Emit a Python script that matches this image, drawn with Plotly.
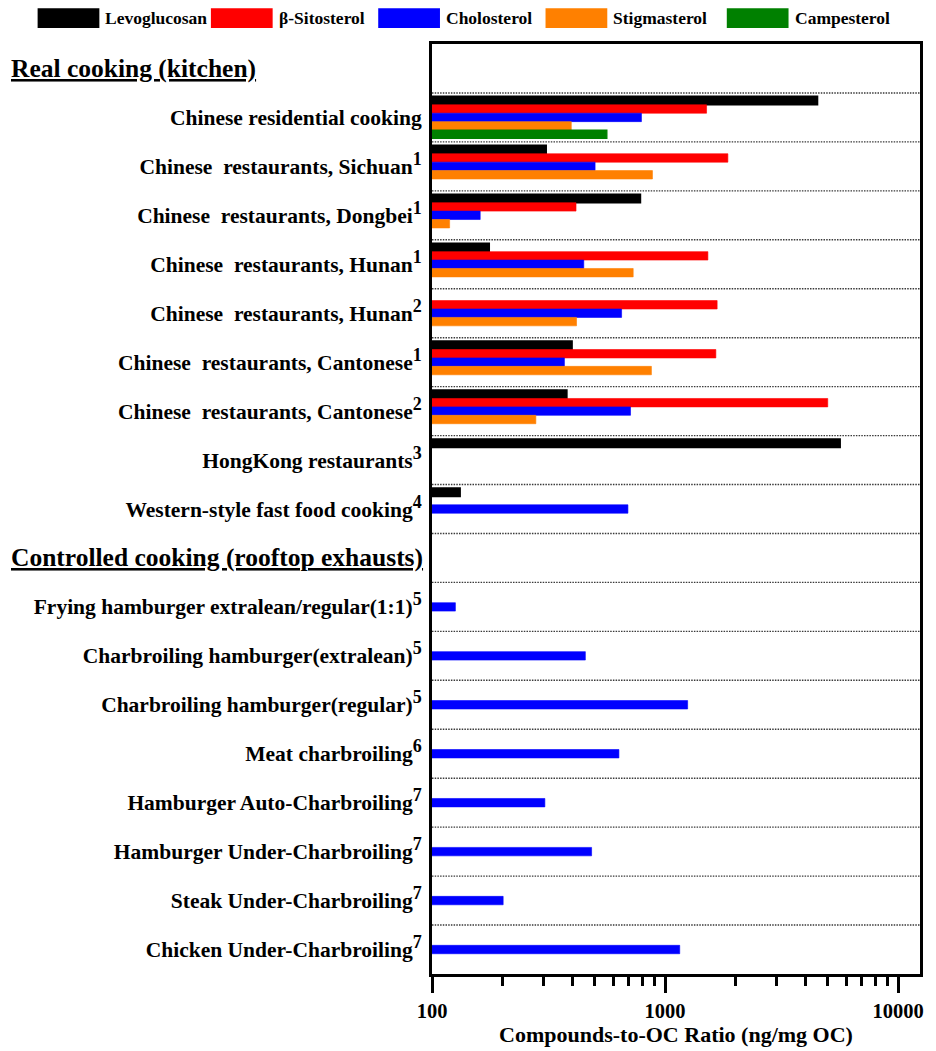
import plotly.graph_objects as go

# ---- data -------------------------------------------------------------
section_headers = ["Real cooking (kitchen)", "Controlled cooking (rooftop exhausts)"]

kitchen_sources = [
    "Chinese residential cooking",
    "Chinese\u00a0 restaurants, Sichuan",
    "Chinese\u00a0 restaurants, Dongbei",
    "Chinese\u00a0 restaurants, Hunan",
    "Chinese\u00a0 restaurants, Hunan",
    "Chinese\u00a0 restaurants, Cantonese",
    "Chinese\u00a0 restaurants, Cantonese",
    "HongKong restaurants",
    "Western-style fast food cooking",
]
kitchen_refs = ["", "1", "1", "1", "2", "1", "2", "3", "4"]

rooftop_sources = [
    "Frying hamburger extralean/regular(1:1)",
    "Charbroiling hamburger(extralean)",
    "Charbroiling hamburger(regular)",
    "Meat charbroiling",
    "Hamburger Auto-Charbroiling",
    "Hamburger Under-Charbroiling",
    "Steak Under-Charbroiling",
    "Chicken Under-Charbroiling",
]
rooftop_refs = ["5", "5", "5", "6", "7", "7", "7", "7"]

series_names = ["Levoglucosan", "\u03b2-Sitosterol", "Cholosterol", "Stigmasterol", "Campesterol"]
series_colors = ["#000000", "#ff0000", "#0000ff", "#ff8000", "#008000"]
series_outline = [1.6, 0.6, 0.6, 0.6, 1.2]

# ng compound per mg OC, kitchen sources then rooftop sources
levoglucosan = [4510, 309, 784, 176, None, 399, 379, 5640, 132,
                None, None, None, None, None, None, None, None]
sitosterol = [1507, 1860, 415, 1527, 1673, 1652, 4990, None, None,
              None, None, None, None, None, None, None, None]
cholesterol = [792, 501, 161, 448, 651, 370, 711, None, 693,
               126, 455, 1250, 634, 305, 484, 202, 1156]
stigmasterol = [396, 883, 119, 730, 417, 874, 279, None, None,
                None, None, None, None, None, None, None, None]
campesterol = [563, None, None, None, None, None, None, None, None,
               None, None, None, None, None, None, None, None]

x_tick_values = [100, 1000, 10000]
x_title = "Compounds-to-OC Ratio (ng/mg OC)"

# ---- build the category axis -----------------------------------------
FONT = "Liberation Serif"
LABEL_SIZE = 21.5


def key(name, ref):
    return f"{name}|{ref}"


def label(name, ref):
    if not ref:
        return f"<b>{name}</b>"
    return f"<b>{name}<sup><span style='font-size:{LABEL_SIZE * 0.85:.0f}px'>{ref}</span></sup></b>"


source_keys = [key(n, r) for n, r in zip(kitchen_sources, kitchen_refs)] + \
              [key(n, r) for n, r in zip(rooftop_sources, rooftop_refs)]
source_labels = [label(n, r) for n, r in zip(kitchen_sources, kitchen_refs)] + \
                [label(n, r) for n, r in zip(rooftop_sources, rooftop_refs)]

n_kitchen = len(kitchen_sources)
row_keys = [section_headers[0]] + source_keys[:n_kitchen] + [section_headers[1]] + source_keys[n_kitchen:]
row_text = [" "] + source_labels[:n_kitchen] + [" "] + source_labels[n_kitchen:]

series_values = [levoglucosan, sitosterol, cholesterol, stigmasterol, campesterol]

fig = go.Figure()
for name, color, lw, vals in zip(series_names, series_colors, series_outline, series_values):
    fig.add_trace(go.Bar(
        y=source_keys,
        x=vals,
        orientation="h",
        name=name,
        marker=dict(color=color, line=dict(color=color, width=lw)),
        showlegend=False,
    ))

# dotted separators between rows
n_rows = len(row_keys)
for i in range(n_rows - 1):
    fig.add_shape(type="line", xref="x domain", yref="y",
                  x0=0, x1=1, y0=i + 0.5, y1=i + 0.5,
                  line=dict(color="#3a3a3a", width=1.4, dash="1.5px,1.2px"), layer="below")

# pixel -> paper helpers for the plot frame
L, R, T, B = 432, 922, 44, 980
W, H = R - L, B - T


def px_x(p):
    return (p - L) / W


def px_y(p):
    return (B - p) / H


# section headers (left-aligned, underlined)
for hdr in section_headers:
    fig.add_annotation(x=px_x(7), xref="paper", y=hdr, yref="y",
                       text=f"<b><u>{hdr}</u></b>", showarrow=False,
                       xanchor="left", yanchor="middle",
                       font=dict(family=FONT, size=25.5, color="black"))

# legend drawn as wide swatches above the plot
swatch_left = [36, 210, 378, 546, 728]
for sx, name, color in zip(swatch_left, series_names, series_colors):
    fig.add_shape(type="rect", xref="paper", yref="paper",
                  x0=px_x(sx), x1=px_x(sx + 62), y0=px_y(28), y1=px_y(8),
                  fillcolor=color, line=dict(width=0))
    fig.add_annotation(x=px_x(sx + 66), y=px_y(18), xref="paper", yref="paper",
                       text=f"<b>{name}</b>", showarrow=False,
                       xanchor="left", yanchor="middle",
                       font=dict(family=FONT, size=17.5, color="black"))

fig.update_layout(
    width=936, height=1051,
    margin=dict(l=L, r=936 - R, t=T, b=1051 - B),
    barmode="group", bargap=0.14, bargroupgap=0,
    plot_bgcolor="white", paper_bgcolor="white",
    font=dict(family=FONT, color="black"),
)

fig.update_yaxes(
    type="category", categoryorder="array", categoryarray=row_keys,
    tickvals=row_keys, ticktext=row_text,
    range=[n_rows - 0.5, -0.5],
    showline=True, linecolor="black", linewidth=3, mirror=True,
    ticks="", showgrid=False, zeroline=False,
    tickfont=dict(family=FONT, size=LABEL_SIZE, color="black"),
    ticklabelstandoff=3,
)

fig.update_xaxes(
    type="log", range=[2, 4.094],
    tickvals=x_tick_values, ticktext=[f"<b>{v}</b>" for v in x_tick_values],
    ticks="outside", ticklen=16, tickwidth=3, tickcolor="black",
    minor=dict(ticks="outside", ticklen=9, tickwidth=3, tickcolor="black",
               tickvals=[m * d for d in (100, 1000) for m in range(2, 10)]),
    showline=True, linecolor="black", linewidth=3, mirror=True,
    showgrid=False, zeroline=False,
    tickfont=dict(family=FONT, size=20.5, color="black"),
    title=dict(text=f"<b>{x_title}</b>", font=dict(family=FONT, size=22, color="black"), standoff=2),
)

fig.write_html("out.html")
